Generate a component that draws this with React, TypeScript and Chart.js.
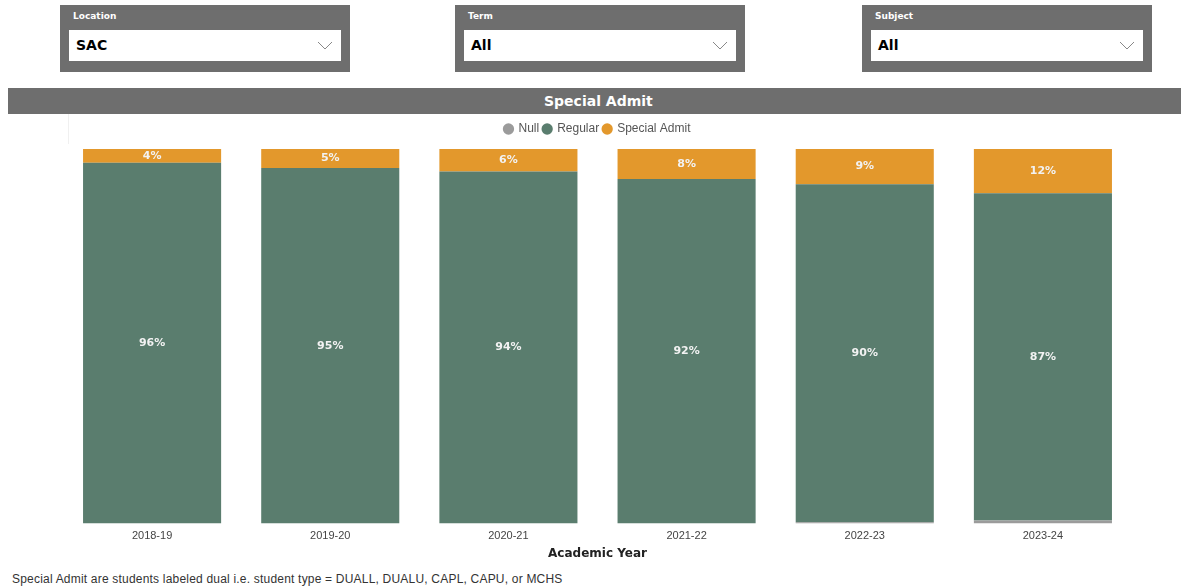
import React, { useEffect, useRef } from "react";
import { Chart, registerables } from "chart.js";

Chart.register(...registerables);

const categories = ["2018-19", "2019-20", "2020-21", "2021-22", "2022-23", "2023-24"];
const nullValues = [0, 0, 0, 0, 0.3, 0.8];
const regularValues = [96.3, 94.9, 94.0, 92.0, 90.3, 87.4];
const specialValues = [3.7, 5.1, 6.0, 8.0, 9.4, 11.8];

const seriesNames = ["Null", "Regular", "Special Admit"];
const seriesColors = ["#9b9b9b", "#5a7d6e", "#e3982c"];

const filters = [
  { label: "Location", value: "SAC", left: 60 },
  { label: "Term", value: "All", left: 455 },
  { label: "Subject", value: "All", left: 862 },
];

const FONT = "'Liberation Sans', Arial, sans-serif";
const HEAVY = "'DejaVu Sans', 'Liberation Sans', sans-serif";

const labelPlugin = {
  id: "barLabels",
  afterDatasetsDraw(chart: any) {
    const ctx = chart.ctx;
    ctx.save();
    ctx.font = `bold 11px ${HEAVY}`;
    ctx.fillStyle = "#f2f2f2";
    ctx.textAlign = "center";
    ctx.textBaseline = "middle";
    chart.data.datasets.forEach((ds: any, di: number) => {
      if (di === 0) return;
      const meta = chart.getDatasetMeta(di);
      meta.data.forEach((el: any, i: number) => {
        const v = ds.data[i];
        if (!v) return;
        const y = (el.y + el.base) / 2;
        ctx.fillText(Math.round(v) + "%", el.x, y);
      });
    });
    ctx.restore();
  },
};

const legendMargin = {
  id: "legendMargin",
  beforeInit(chart: any) {
    const orig = chart.legend.fit;
    chart.legend.fit = function () {
      orig.bind(chart.legend)();
      this.height += 4;
    };
  },
};

function Chevron() {
  return (
    <svg width="16" height="10" viewBox="0 0 16 10" style={{ position: "absolute", right: 8, top: 11 }}>
      <polyline points="1,1 8,8 15,1" fill="none" stroke="#888" strokeWidth="1" />
    </svg>
  );
}

export default function App() {
  const canvasRef = useRef<HTMLCanvasElement | null>(null);

  useEffect(() => {
    const values = [nullValues, regularValues, specialValues];
    const chart = new Chart(canvasRef.current as HTMLCanvasElement, {
      type: "bar",
      data: {
        labels: categories,
        datasets: seriesNames.map((name, i) => ({
          label: name,
          data: values[i],
          backgroundColor: seriesColors[i],
          borderWidth: 0,
          categoryPercentage: 1,
          barPercentage: 0.775,
        })),
      },
      options: {
        animation: false,
        responsive: false,
        maintainAspectRatio: false,
        layout: { padding: { left: 63, right: 49, top: 0, bottom: 4 } },
        plugins: {
          legend: {
            position: "top",
            labels: {
              usePointStyle: true,
              pointStyle: "circle",
              boxWidth: 8,
              boxHeight: 8,
              padding: 4,
              color: "#555",
              font: { family: FONT, size: 12 },
            },
          },
          tooltip: { enabled: false },
        },
        scales: {
          x: {
            stacked: true,
            grid: { display: false, drawTicks: false },
            border: { display: false },
            ticks: { color: "#444", font: { family: FONT, size: 11 }, padding: 6 },
            title: {
              display: true,
              text: "Academic Year",
              color: "#222",
              font: { family: HEAVY, size: 12, weight: "bold" },
              padding: { top: -2, bottom: 0 },
            },
          },
          y: {
            stacked: true,
            min: 0,
            max: 100,
            display: false,
          },
        },
      },
      plugins: [labelPlugin, legendMargin],
    });
    return () => chart.destroy();
  }, []);

  return (
    <div
      style={{
        position: "absolute",
        left: 0,
        top: 0,
        width: 1181,
        height: 588,
        background: "#fff",
        overflow: "hidden",
        fontFamily: FONT,
      }}
    >
      {filters.map((f) => (
        <div
          key={f.label}
          style={{
            position: "absolute",
            left: f.left,
            top: 5,
            width: 290,
            height: 67,
            background: "#6e6e6e",
          }}
        >
          <div
            style={{
              position: "absolute",
              left: 13,
              top: 6,
              color: "#fff",
              fontSize: 9,
              fontWeight: "bold",
              fontFamily: HEAVY,
            }}
          >
            {f.label}
          </div>
          <div
            style={{
              position: "absolute",
              left: 9,
              top: 25,
              width: 272,
              height: 31,
              background: "#fff",
            }}
          >
            <div
              style={{
                position: "absolute",
                left: 7,
                top: 7,
                fontSize: 14,
                fontWeight: "bold",
                fontFamily: HEAVY,
                color: "#000",
              }}
            >
              {f.value}
            </div>
            <Chevron />
          </div>
        </div>
      ))}
      <div
        style={{
          position: "absolute",
          left: 8,
          top: 88,
          width: 1173,
          height: 26,
          background: "#6e6e6e",
          color: "#fff",
          fontWeight: "bold",
          fontFamily: HEAVY,
          fontSize: 14,
          lineHeight: "26px",
        }}
      >
        <span style={{ position: "absolute", left: 536 }}>Special Admit</span>
      </div>
      <div style={{ position: "absolute", left: 68, top: 114, width: 1, height: 30, background: "#f0f0f0" }} />
      <canvas
        ref={canvasRef}
        width={1181}
        height={446}
        style={{ position: "absolute", left: 0, top: 119, width: 1181, height: 446 }}
      />
      <div
        style={{
          position: "absolute",
          left: 12,
          top: 572,
          fontSize: 12,
          letterSpacing: 0.2,
          color: "#333",
        }}
      >
        Special Admit are students labeled dual i.e. student type = DUALL, DUALU, CAPL, CAPU, or MCHS
      </div>
    </div>
  );
}
